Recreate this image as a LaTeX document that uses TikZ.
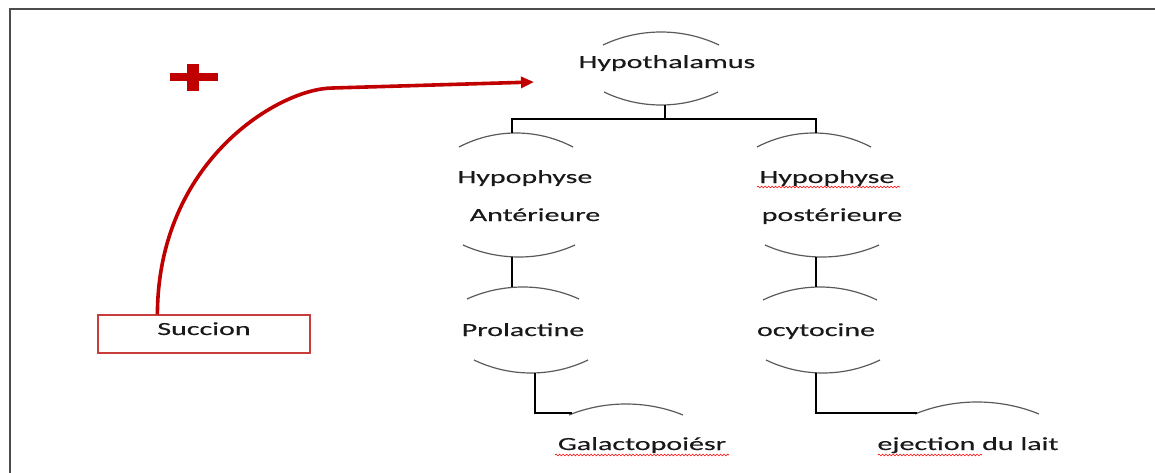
\documentclass[tikz,border=0pt]{standalone}
\usepackage{fontspec}
\newfontfamily\wfont[FakeStretch=1.62,FakeBold=0.3]{Carlito}
\usetikzlibrary{arrows.meta,decorations.pathmorphing,calc}
\definecolor{arrowred}{RGB}{192,0,0}
\definecolor{boxred}{RGB}{200,60,60}
\definecolor{arcgray}{RGB}{90,90,90}
\newcommand\toparc[4]{\draw[arcline] (#1-#3,#2+#4) .. controls (#1-0.37*#3,#2-#4/3) and (#1+0.37*#3,#2-#4/3) .. (#1+#3,#2+#4);}
\newcommand\botarc[4]{\draw[arcline] (#1-#3,#2-#4) .. controls (#1-0.37*#3,#2+#4/3) and (#1+0.37*#3,#2+#4/3) .. (#1+#3,#2-#4);}
\begin{document}
\begin{tikzpicture}[x=1pt,y=-1pt,
  lbl/.style={font=\wfont\fontsize{18.5}{20}\selectfont, inner sep=0pt, anchor=base, text=black!90},
  arcline/.style={draw=arcgray, line width=1.2pt},
  conn/.style={draw=black, line width=1.4pt},
  wavy/.style={draw=red, line width=0.6pt, decorate, decoration={snake, amplitude=0.9pt, segment length=3.5pt}},
  succbox/.style={draw=boxred, line width=1.2pt, minimum width=212pt, minimum height=38pt, inner sep=0pt,
    text height=12pt, text depth=10pt, font=\wfont\fontsize{18.5}{20}\selectfont, text=black!90},
  redarrow/.style={draw=arrowred, line width=3.6pt, -{Triangle[length=13pt,width=11pt]}},
]
\useasboundingbox (0,0) rectangle (1155,473);
% frame
\draw[draw=black!70, line width=1.6pt] (10,473) -- (10,9) -- (1155,9);

% arcs
\toparc{661}{32}{58}{13}
\botarc{661}{105}{57}{13}
\toparc{516}{133}{57}{14}
\botarc{519}{257}{56}{12}
\toparc{814}{133}{57}{14}
\botarc{822}{257}{57}{12}
\toparc{523}{287}{56}{12}
\botarc{531}{373}{57}{13}
\toparc{820}{287}{57}{13}
\botarc{823}{373}{57}{13}
\toparc{626}{404}{57}{11}
\toparc{977}{402}{62}{12}

% text
\node[lbl] (hypo) at (667,68) {Hypothalamus};
\node[lbl] (ha1) at (525,183) {Hypophyse};
\node[lbl] (ha2) at (535,221) {Antérieure};
\node[lbl] (hp1) at (827,183) {Hypophyse};
\node[lbl] (hp2) at (832,221) {postérieure};
\node[lbl] (prol) at (523,336) {Prolactine};
\node[lbl] (ocy) at (816,336) {ocytocine};
\node[lbl] (gal) at (642,450) {Galactopoiésr};
\node[lbl] (ej) at (968,450) {ejection du lait};
\node[succbox] (succ) at (204,334) {Succion};

% spell-check underlines
\draw[wavy] (757,187) -- (900,187);
\draw[wavy] (555,455) -- (729,455);
\draw[wavy] (878,455) -- (982,455);

% connector coordinates
\coordinate (hy-b) at (665,105);
\coordinate (ha-t) at (512,133);
\coordinate (ha-b) at (512,257);
\coordinate (hp-t) at (816,133);
\coordinate (hp-b) at (816,257);
\coordinate (pr-t) at (512,287);
\coordinate (pr-b) at (535,373);
\coordinate (oc-t) at (816,287);
\coordinate (oc-b) at (816,373);
\coordinate (ga-l) at (572,413);
\coordinate (ej-l) at (917,413);
\coordinate (tip) at (534,82);

\draw[conn] (hy-b) -- ++(0,14) -| (ha-t);
\draw[conn] (hy-b) -- ++(0,14) -| (hp-t);
\draw[conn] (ha-b) -- (pr-t);
\draw[conn] (hp-b) -- (oc-t);
\draw[conn] (pr-b) |- (ga-l);
\draw[conn] (oc-b) |- (ej-l);

% red arrow
\draw[redarrow] ([xshift=60pt]succ.north west) .. controls (158,160) and (280,88) .. (333,88) -- (tip);
% plus sign
\fill[arrowred] (187,64) rectangle (199,91);
\fill[arrowred] (170,73) rectangle (218,81);
\end{tikzpicture}
\end{document}
